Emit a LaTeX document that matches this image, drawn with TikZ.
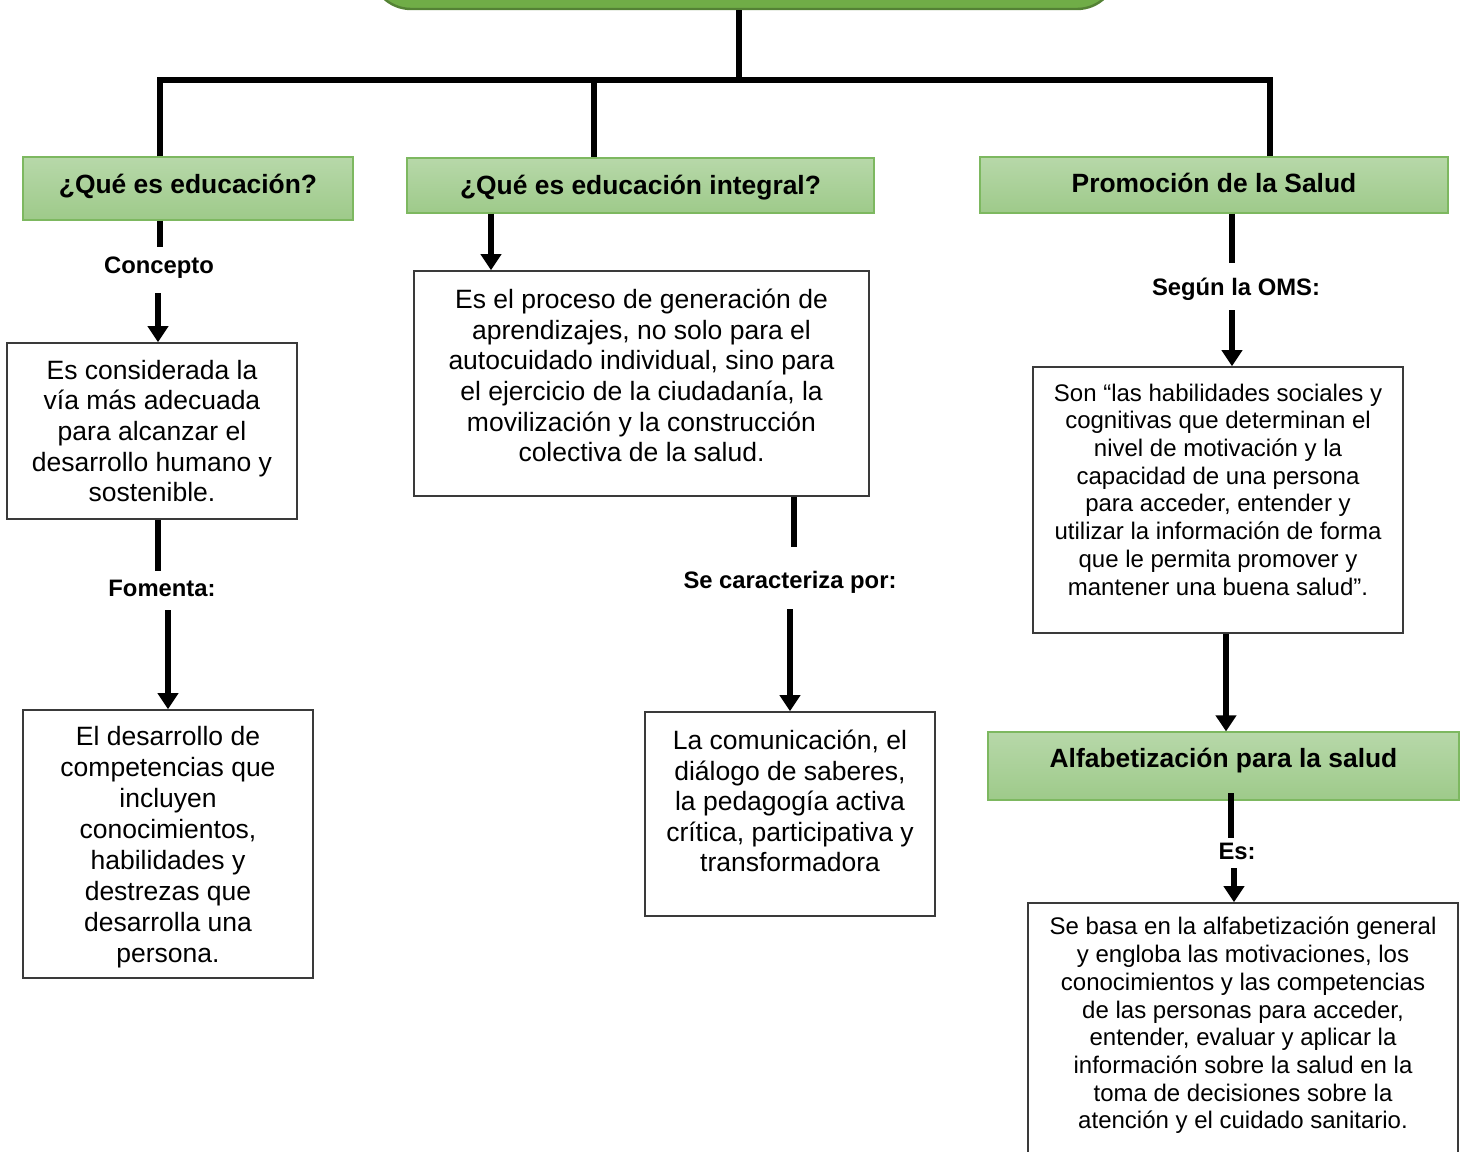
\documentclass[tikz,border=0pt]{standalone}
\usepackage{fontspec}
\setmainfont{Liberation Sans}
\usetikzlibrary{arrows.meta}
\definecolor{hdrtop}{HTML}{B7D8A9}
\definecolor{hdrbot}{HTML}{9ECA8A}
\definecolor{hdrline}{HTML}{7DB860}
\definecolor{topfill}{HTML}{70AD47}
\definecolor{topline}{HTML}{548235}
\definecolor{boxline}{HTML}{3A3A3A}
\begin{document}
\begin{tikzpicture}[x=0.5pt,y=-0.5pt,
  conn/.style={line width=2.8pt,draw=black},
  arr/.style={conn,-{Triangle[width=10pt,length=8pt]}},
  hdr/.style={draw=hdrline,line width=0.6pt,top color=hdrtop,bottom color=hdrbot,inner sep=0pt,font=\fontsize{13.2}{15}\selectfont\bfseries,text height=9.5pt},
  box/.style={draw=boxline,line width=0.8pt,fill=white,inner sep=0pt},
  txt/.style={align=center,inner sep=0pt,font=\fontsize{13.25}{15.3}\selectfont},
  txtb/.style={align=center,inner sep=0pt,font=\fontsize{13.25}{15.45}\selectfont},
  txts/.style={align=center,inner sep=0pt,font=\fontsize{12}{13.85}\selectfont},
  lab/.style={inner sep=0pt,font=\fontsize{11.9}{14}\selectfont\bfseries,text height=8.6pt,text depth=0pt},
  topbox/.style={draw=topline,fill=topfill,line width=1.2pt,rounded corners=20pt,inner sep=0pt}
]
\path[use as bounding box,clip] (0,0) rectangle (1466,1151);

% top (cut) box
\node[topbox,minimum width=373pt,minimum height=44.5pt] (top) at (744,-35.5) {};

% headers
\node[hdr,minimum width=165pt,minimum height=31.5pt,text depth=4.5pt] (hA) at (188,188.5) {¿Qué es educación?};
\node[hdr,minimum width=233.5pt,minimum height=27.5pt,text depth=0.5pt] (hB) at (640.5,185.5) {¿Qué es educación integral?};
\node[hdr,minimum width=234pt,minimum height=28pt,text depth=2pt] (hC) at (1214,185) {Promoción de la Salud};
\node[hdr,minimum width=235.5pt,minimum height=34pt,text depth=8pt] (hD) at (1223.5,766) {Alfabetización para la salud};

% trunk
\coordinate (tj) at (739,80);
\coordinate (hl) at (160,80);
\coordinate (hr) at (1270,80);
\coordinate (hm) at (594,80);
\draw[conn] (top.south -| tj) -- (tj);
\draw[conn,line join=miter] (hA.north -| hl) -- (hl) -- (hr) -- (hC.north -| hr);
\draw[conn] (hm) -- (hB.north -| hm);

% boxes
\node[box,minimum width=145pt,minimum height=88pt] (boxA) at (152,431) {};
\node[box,minimum width=145pt,minimum height=134pt] (boxB) at (168,844) {};
\node[box,minimum width=227.5pt,minimum height=112.5pt] (boxC) at (641.5,383.5) {};
\node[box,minimum width=145pt,minimum height=102pt] (boxD) at (790,814) {};
\node[box,minimum width=185pt,minimum height=133pt] (boxE) at (1218,500) {};
\node[box,minimum width=215pt,minimum height=138.5pt] (boxF) at (1243,1041.5) {};

% box texts
\node[txt] (tA) at (152,431) {Es considerada la\\vía más adecuada\\para alcanzar el\\desarrollo humano y\\sostenible.};
\node[txtb] (tB) at (168,847) {El desarrollo de\\competencias que\\incluyen\\conocimientos,\\habilidades y\\destrezas que\\desarrolla una\\persona.};
\node[txt] (tC) at (641.5,375.5) {Es el proceso de generación de\\aprendizajes, no solo para el\\autocuidado individual, sino para\\el ejercicio de la ciudadanía, la\\movilización y la construcción\\colectiva de la salud.};
\node[txt] (tD) at (790,801) {La comunicación, el\\diálogo de saberes,\\la pedagogía activa\\crítica, participativa y\\transformadora};
\node[txts] (tE) at (1218,489.5) {Son “las habilidades sociales y\\cognitivas que determinan el\\nivel de motivación y la\\capacidad de una persona\\para acceder, entender y\\utilizar la información de forma\\que le permita promover y\\mantener una buena salud”.};
\node[txts] (tF) at (1243,1025.5) {Se basa en la alfabetización general\\y engloba las motivaciones, los\\conocimientos y las competencias\\de las personas para acceder,\\entender, evaluar y aplicar la\\información sobre la salud en la\\toma de decisiones sobre la\\atención y el cuidado sanitario.};

% labels
\node[lab] (lA) at (159,265) {Concepto};
\node[lab] (lB) at (162,588) {Fomenta:};
\node[lab] (lC) at (790,580) {Se caracteriza por:};
\node[lab] (lD) at (1236,287) {Según la OMS:};
\node[lab] (lE) at (1237,851) {Es:};

% left column connectors
\coordinate (a1) at (160,247);
\coordinate (a2) at (158,293);
\coordinate (a3) at (158,571);
\coordinate (a4) at (168,610);
\draw[conn] (hA.south -| a1) -- (a1);
\draw[arr] (a2) -- (a2 |- boxA.north);
\draw[conn] (boxA.south -| a3) -- (a3);
\draw[arr] (a4) -- (a4 |- boxB.north);

% middle column connectors
\coordinate (m1) at (491,0);
\coordinate (m2) at (794,547);
\coordinate (m3) at (790,609);
\draw[arr] (hB.south -| m1) -- (m1 |- boxC.north);
\draw[conn] (boxC.south -| m2) -- (m2);
\draw[arr] (m3) -- (m3 |- boxD.north);

% right column connectors
\coordinate (r1) at (1232,263);
\coordinate (r2) at (1232,310);
\coordinate (r3) at (1226,0);
\coordinate (r4) at (1231,793);
\coordinate (r5) at (1231,838);
\coordinate (r6) at (1234,868);
\draw[conn] (hC.south -| r1) -- (r1);
\draw[arr] (r2) -- (r2 |- boxE.north);
\draw[arr] (boxE.south -| r3) -- (r3 |- hD.north);
\draw[conn] (r4) -- (r5);
\draw[arr] (r6) -- (r6 |- boxF.north);
\end{tikzpicture}
\end{document}
